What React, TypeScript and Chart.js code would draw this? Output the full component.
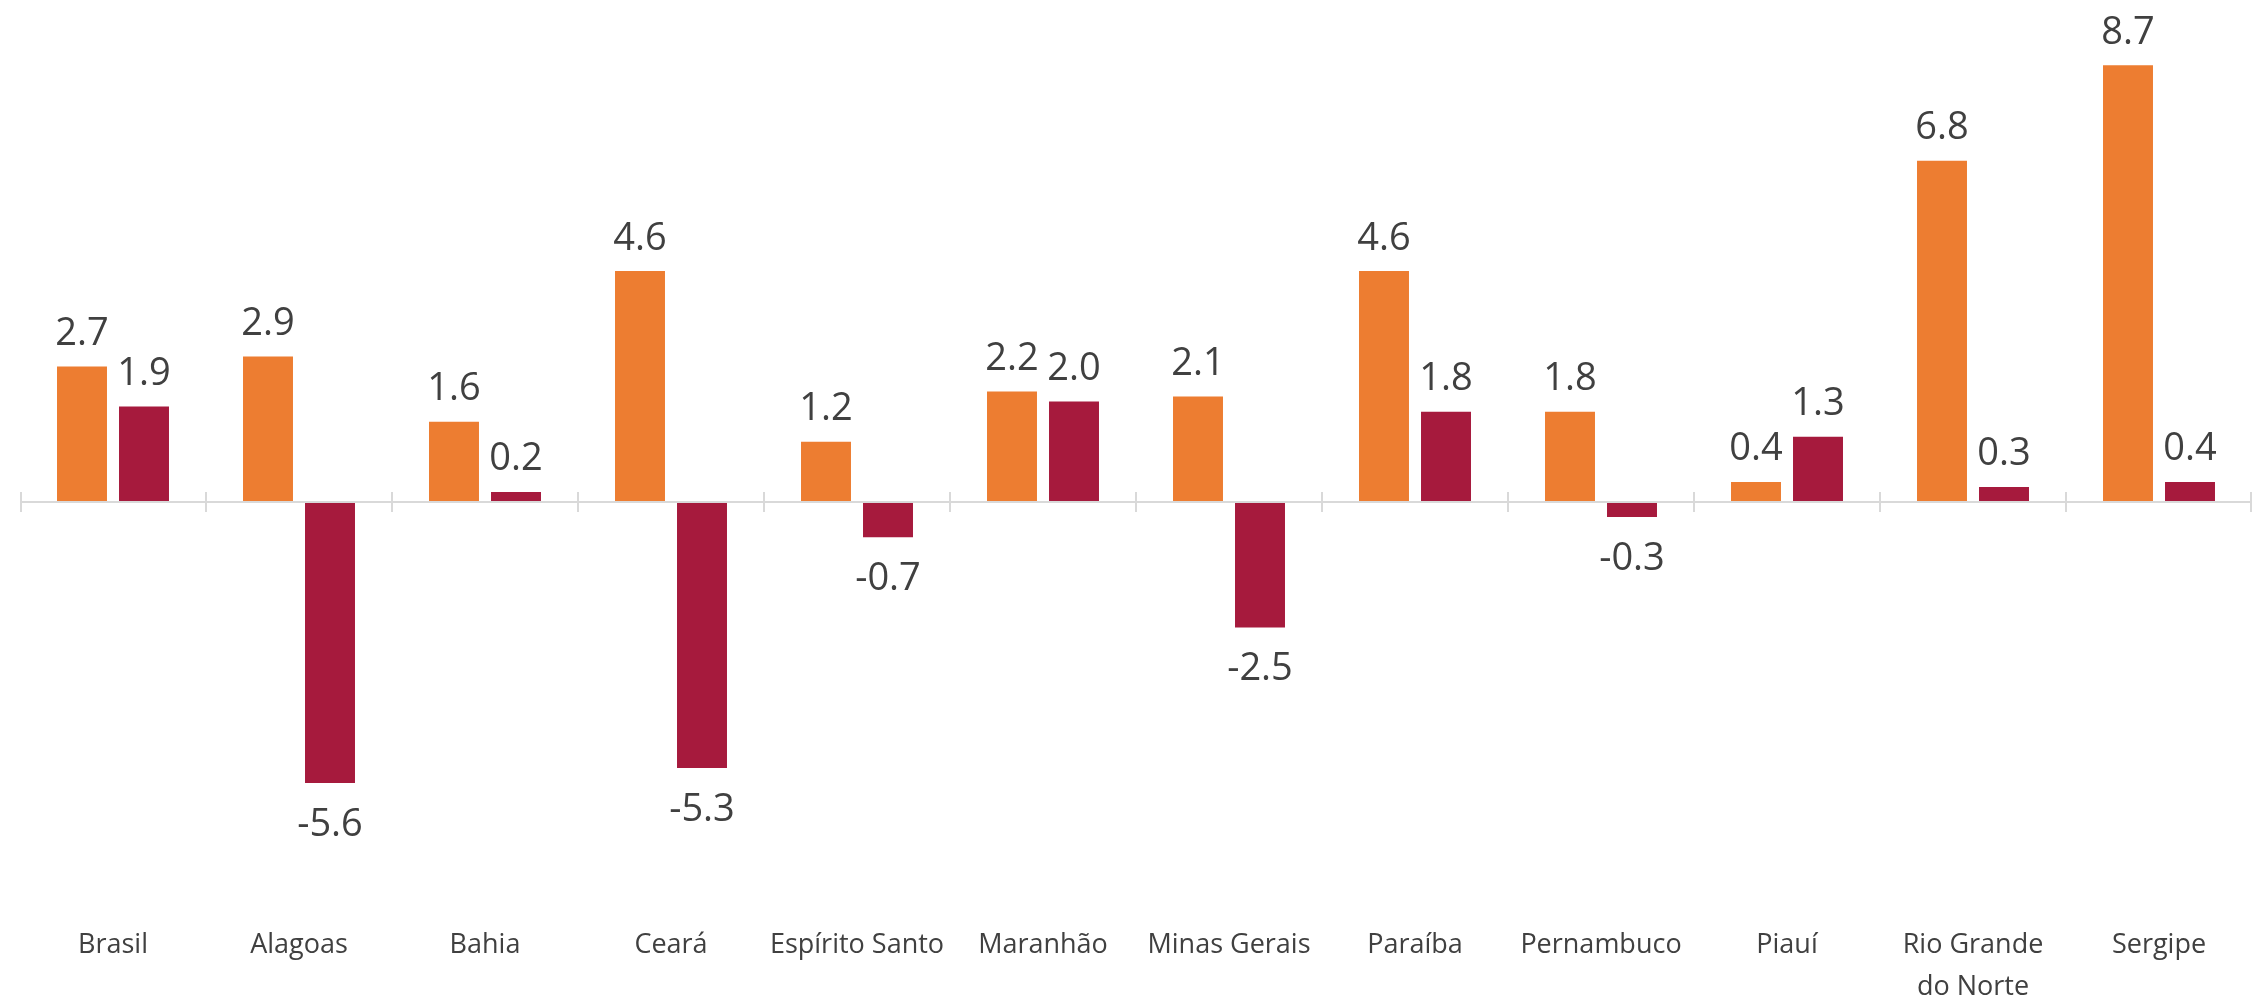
import React, { useEffect, useRef } from "react";
import { Chart, registerables } from "chart.js";

Chart.register(...registerables);

const categories: (string | string[])[] = [
  "Brasil",
  "Alagoas",
  "Bahia",
  "Ceará",
  "Espírito Santo",
  "Maranhão",
  "Minas Gerais",
  "Paraíba",
  "Pernambuco",
  "Piauí",
  ["Rio Grande", "do Norte"],
  "Sergipe",
];
const series1Name = "Série 1";
const series1Values = [2.7, 2.9, 1.6, 4.6, 1.2, 2.2, 2.1, 4.6, 1.8, 0.4, 6.8, 8.7];
const series2Name = "Série 2";
const series2Values = [1.9, -5.6, 0.2, -5.3, -0.7, 2.0, -2.5, 1.8, -0.3, 1.3, 0.3, 0.4];
const yMin = -8;
const yMax = 10;

const W = 2253;
const H = 1001;
const ORANGE = "#ED7D31";
const CRIMSON = "#A61A3D";
const TEXT = "#404040";
const AXIS = "#D9D9D9";

const zeroAxisPlugin = {
  id: "zeroAxis",
  afterDatasetsDraw(chart: any) {
    const { ctx, chartArea } = chart;
    const xs = chart.scales.x;
    const ys = chart.scales.y;
    const y0 = Math.round(ys.getPixelForValue(0));
    ctx.save();
    ctx.strokeStyle = AXIS;
    ctx.lineWidth = 2;
    ctx.beginPath();
    ctx.moveTo(chartArea.left, y0);
    ctx.lineTo(chartArea.right, y0);
    const n = categories.length;
    for (let i = 0; i <= n; i++) {
      let px = xs.getPixelForValue(i - 0.5);
      px = Math.min(Math.max(px, chartArea.left + 1), chartArea.right - 1);
      ctx.moveTo(px, y0 - 10);
      ctx.lineTo(px, y0 + 10);
    }
    ctx.stroke();
    ctx.restore();
  },
};

const valueLabelPlugin = {
  id: "valueLabels",
  afterDatasetsDraw(chart: any) {
    const { ctx } = chart;
    ctx.save();
    ctx.font = '38px "Open Sans"';
    ctx.fillStyle = TEXT;
    ctx.textAlign = "center";
    ctx.textBaseline = "alphabetic";
    chart.data.datasets.forEach((ds: any, di: number) => {
      const meta = chart.getDatasetMeta(di);
      meta.data.forEach((el: any, i: number) => {
        const v = ds.data[i] as number;
        const txt = v.toFixed(1);
        const y = v >= 0 ? el.y - 21.5 : el.y + 52.5;
        ctx.fillText(txt, el.x, y);
      });
    });
    ctx.restore();
  },
};

export default function App() {
  const ref = useRef<HTMLCanvasElement | null>(null);

  useEffect(() => {
    if (!ref.current) return;
    const zeroPx = 502;
    const bottomPx = (zeroPx * (yMax - yMin)) / yMax;
    const chart = new Chart(ref.current, {
      type: "bar",
      data: {
        labels: categories as any,
        datasets: [
          {
            label: series1Name,
            data: series1Values,
            backgroundColor: ORANGE,
            borderWidth: 0,
          },
          {
            label: series2Name,
            data: series2Values,
            backgroundColor: CRIMSON,
            borderWidth: 0,
          },
        ],
      },
      options: {
        responsive: false,
        animation: false,
        devicePixelRatio: 1,
        categoryPercentage: 0.6667,
        barPercentage: 0.806,
        layout: { padding: { left: 20, right: 1, top: 0, bottom: 0 } },
        plugins: {
          legend: { display: false },
          tooltip: { enabled: false },
          title: { display: false },
        },
        scales: {
          x: {
            type: "category",
            offset: true,
            grid: { display: false, drawTicks: false },
            border: { display: false },
            ticks: {
              autoSkip: false,
              maxRotation: 0,
              minRotation: 0,
              padding: 21,
              color: TEXT,
              font: { family: '"Open Sans"', size: 27, lineHeight: 42 / 27 },
            },
            afterFit: (scale: any) => {
              scale.height = H - bottomPx;
            },
          },
          y: {
            display: false,
            min: yMin,
            max: yMax,
            grid: { display: false },
          },
        },
      } as any,
      plugins: [zeroAxisPlugin, valueLabelPlugin],
    });
    return () => chart.destroy();
  }, []);

  return (
    <div
      style={{
        position: "absolute",
        left: 0,
        top: 0,
        width: W,
        height: H,
        background: "#ffffff",
      }}
    >
      <canvas ref={ref} width={W} height={H} style={{ width: W, height: H, display: "block" }} />
    </div>
  );
}
